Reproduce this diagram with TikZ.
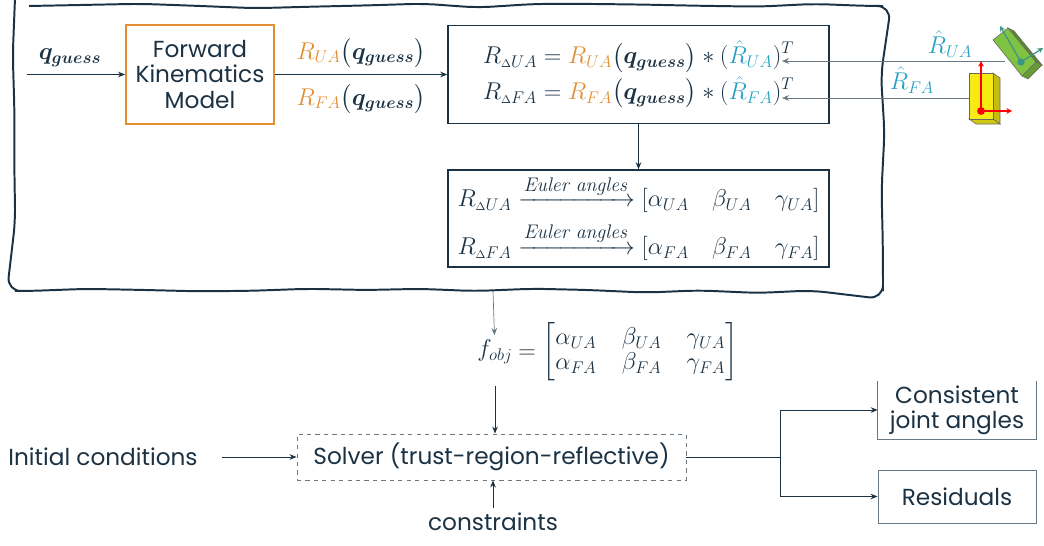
\documentclass[tikz,border=0pt]{standalone}
\usepackage[no-math]{fontspec}
\setmainfont{Poppins}
\usepackage{amsmath}
\usepackage{bm}
\usepackage{xcolor}
\usepackage{tikz}
\usetikzlibrary{arrows.meta,positioning,decorations.pathmorphing}
\definecolor{navy}{RGB}{27,50,68}
\definecolor{fkorange}{RGB}{226,142,52}
\definecolor{rcyan}{RGB}{38,160,196}
\definecolor{linegray}{RGB}{105,120,130}
\definecolor{boxyellow}{RGB}{246,236,20}
\definecolor{boxgreen}{RGB}{128,194,66}
\definecolor{axisteal}{RGB}{60,150,135}

\newcommand{\qg}{\bm{q}_{\bm{guess}}}
\newcommand{\dsub}[1]{{\scriptscriptstyle\Delta}#1}
\newcommand{\eulerlabel}{\text{\fontfamily{lmr}\fontsize{14}{14}\selectfont\itshape Euler angles}}

\tikzset{
  arr/.style={draw=navy, line width=0.6pt, -{Stealth[length=5pt,width=4pt]}},
  thinarr/.style={draw=linegray, line width=0.5pt, -{Stealth[length=5pt,width=4pt]}},
  fkbox/.style={draw=fkorange, line width=1.3pt, minimum width=3.7cm, minimum height=2.475cm, align=center},
  eqbox/.style={draw=navy, line width=1pt, minimum width=9.525cm},
  solverbox/.style={draw=linegray, dashed, line width=0.6pt, minimum width=9.725cm, minimum height=1.15cm},
  outbox/.style={minimum width=3.95cm, align=center},
}

\begin{document}
\begin{tikzpicture}[x=0.025cm, y=-0.025cm, text=navy, font=\fontsize{16.5}{17.8}\selectfont]
\useasboundingbox (0,0) rectangle (1044,545);

% sketchy frame round the kinematics part
\pgfmathsetseed{12}
\draw[navy, line width=1.4pt, decorate, decoration={random steps, segment length=1.4cm, amplitude=0.06cm}, rounded corners=0.35cm]
  (15,6) -- (883,6) -- (883,291) -- (15,291) -- cycle;

\coordinate (qin) at (27,74.5);
\node (qg) at (70,58) {$\qg$};
\node[fkbox] (fk) at (200,74.5) {Forward\\Kinematics\\Model};
\draw[arr] (qin) -- (fk);

\node (ru) at (361,53) {$\textcolor{fkorange}{R_{UA}}\bigl(\qg\bigr)$};
\node (rf) at (361,99) {$\textcolor{fkorange}{R_{FA}}\bigl(\qg\bigr)$};

\node[eqbox, minimum height=2.45cm] (eq) at (638.5,74.5) {$\begin{aligned}
  R_{\dsub{UA}} &= \textcolor{fkorange}{R_{UA}}\bigl(\qg\bigr) * (\textcolor{rcyan}{\hat{R}_{UA}})^{T}\\[-1pt]
  R_{\dsub{FA}} &= \textcolor{fkorange}{R_{FA}}\bigl(\qg\bigr) * (\textcolor{rcyan}{\hat{R}_{FA}})^{T}
\end{aligned}$};
\draw[arr] (fk) -- (eq);

\node[eqbox, minimum height=2.425cm] (eu) at (638.5,218.5) {$\begin{aligned}
  R_{\dsub{UA}} &\xrightarrow{\eulerlabel} [\alpha_{UA}\quad \beta_{UA}\quad \gamma_{UA}]\\[2pt]
  R_{\dsub{FA}} &\xrightarrow{\eulerlabel} [\alpha_{FA}\quad \beta_{FA}\quad \gamma_{FA}]
\end{aligned}$};
\draw[arr] (eq) -- (eu);

% measured orientations coming from the sensors
\coordinate (ua) at (1005,61);
\coordinate (uat) at (782,61);
\coordinate (fa) at (969,98);
\coordinate (fat) at (782,98);
\draw[thinarr] (ua) -- (uat);
\draw[thinarr] (fa) -- (fat);
\node[text=rcyan] (uahat) at (950,44) {$\hat{R}_{UA}$};
\node[text=rcyan] (fahat) at (912,80) {$\hat{R}_{FA}$};

% upper arm sensor
\filldraw[fill=boxgreen!70!black, draw=black!60, line width=0.4pt] (1008,28) -- (1014,31) -- (1042,65) -- (1036,62) -- cycle;
\filldraw[fill=boxgreen!80!black, draw=black!60, line width=0.4pt] (1036,62) -- (1042,65) -- (1028,79) -- (1022,76) -- cycle;
\filldraw[fill=boxgreen, draw=black!60, line width=0.4pt] (993,40) -- (1008,28) -- (1036,62) -- (1022,76) -- cycle;
\draw[axisteal, line width=0.9pt, -{Stealth[length=4pt,width=4pt]}] (1021,62) -- (1000,26);
\draw[axisteal, line width=0.9pt, -{Stealth[length=4pt,width=4pt]}] (1021,62) -- (1043,48);
\fill[axisteal] (1021,62) circle (2.6pt);

% forearm sensor
\filldraw[fill=boxyellow!80!black, draw=black!60, line width=0.4pt] (993,73) -- (1000,78) -- (1000,124) -- (993,119) -- cycle;
\filldraw[fill=boxyellow!85!black, draw=black!60, line width=0.4pt] (969,119) -- (993,119) -- (1000,124) -- (976,124) -- cycle;
\filldraw[fill=boxyellow, draw=black!60, line width=0.4pt] (969,73) rectangle (993,119);
\draw[red, line width=1pt, -{Stealth[length=4pt,width=4pt]}] (981,111) -- (981,61);
\draw[red, line width=1pt, -{Stealth[length=4pt,width=4pt]}] (981,111) -- (1012,111);
\fill[red] (981,111) circle (2.8pt);

% objective and solver
\coordinate (fbot) at (493,291);
\node (fo) at (495,352) {$f_{obj}$};
\node[right=-3pt of fo] (fm) {$=\setlength{\arraycolsep}{9pt}\begin{bmatrix} \alpha_{UA} & \beta_{UA} & \gamma_{UA}\\ \alpha_{FA} & \beta_{FA} & \gamma_{FA}\end{bmatrix}$};
\draw[thinarr] (fbot) -- (fo);

\node[solverbox] (sv) at (491.5,457) {Solver (trust-region-reflective)};
\draw[arr] (fo.south |- fm.south) -- (fo.south |- sv.north);

\node (ic) at (103,457) {Initial conditions};
\draw[arr] ([xshift=14pt]ic.east) -- (sv);

\node (cs) at (493,522) {constraints};
\draw[arr] (cs) -- (cs |- sv.south);

\node[outbox, minimum height=1.4cm] (ca) at (957,410) {Consistent\\joint angles};
\draw[linegray, line width=0.6pt] (ca.north west) -- (ca.south west) -- (ca.south east) -- (ca.north east);
\node[outbox, draw=linegray, line width=0.6pt, minimum height=1.325cm] (rs) at (957,496.5) {Residuals};

\coordinate (split) at (780,457);
\draw[navy, line width=0.6pt] (sv.east) -- (split);
\draw[arr] (split) |- (ca);
\draw[arr] (split) |- (rs);
\end{tikzpicture}
\end{document}
